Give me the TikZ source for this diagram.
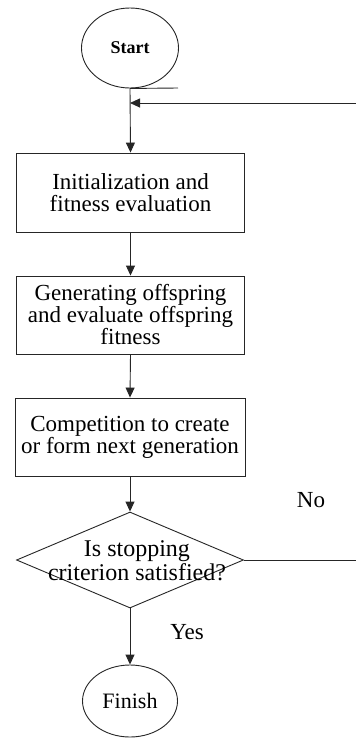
\documentclass[tikz,border=0pt]{standalone}
\usepackage{fontspec}
\setmainfont{Liberation Serif}
\usetikzlibrary{shapes.geometric,arrows.meta}
\begin{document}
\begin{tikzpicture}[x=1pt,y=-1pt,
  line/.style={draw=black!85,line width=0.9pt},
  arr/.style={line,-{Triangle[width=9pt,length=10pt]}},
  txt/.style={align=center,font=\fontsize{23}{22}\selectfont,text=black},
  procbox/.style={line,rectangle,minimum width=228pt,inner sep=0pt},
  term/.style={line,ellipse,inner sep=0pt}
]
\useasboundingbox (0,0) rectangle (356,740);
\fill[white] (0,0) rectangle (356,740);
\clip (0,0) rectangle (356,740);

\node[term,minimum width=97pt,minimum height=80pt,font=\bfseries\fontsize{18}{18}\selectfont] (start) at (130,48) {Start};
\node[procbox,minimum height=79pt,txt] (b1) at (130.5,192.5) {Initialization and\\fitness evaluation};
\node[procbox,minimum height=78pt,txt] (b2) at (130.5,315) {Generating offspring\\and evaluate offspring\\fitness};
\node[procbox,minimum width=230pt,minimum height=78pt,txt] (b3) at (130,437) {Competition to create\\or form next generation};
\node[line,diamond,minimum width=227pt,minimum height=96pt,inner sep=0pt] (dec) at (130,560) {};
\node[txt,font=\fontsize{24}{24}\selectfont,inner sep=0pt] (dectxt) at (137,561) {Is stopping\\criterion satisfied?};
\node[term,minimum width=95pt,minimum height=72pt,font=\fontsize{22}{22}\selectfont] (fin) at (130,701) {Finish};

\coordinate (j) at (130,103);
\coordinate (tick) at (178,88);
\coordinate (r1) at (362,560);
\coordinate (r2) at (362,103);

\node[txt,inner sep=0pt] (no) at (311,500) {No};
\node[txt,inner sep=0pt] (yes) at (187,632) {Yes};

\draw[line] (start.south) -- (tick);
\draw[arr] (start.south) -- (b1.north);
\draw[arr] (b1.south) -- (b2.north);
\draw[arr] (b2.south) -- (b3.north);
\draw[arr] (b3.south) -- (dec.north);
\draw[arr] (dec.south) -- (fin.north);
\draw[line] (dec.east) -- (r1) -- (r2);
\draw[arr] (r2) -- (j);
\end{tikzpicture}
\end{document}
